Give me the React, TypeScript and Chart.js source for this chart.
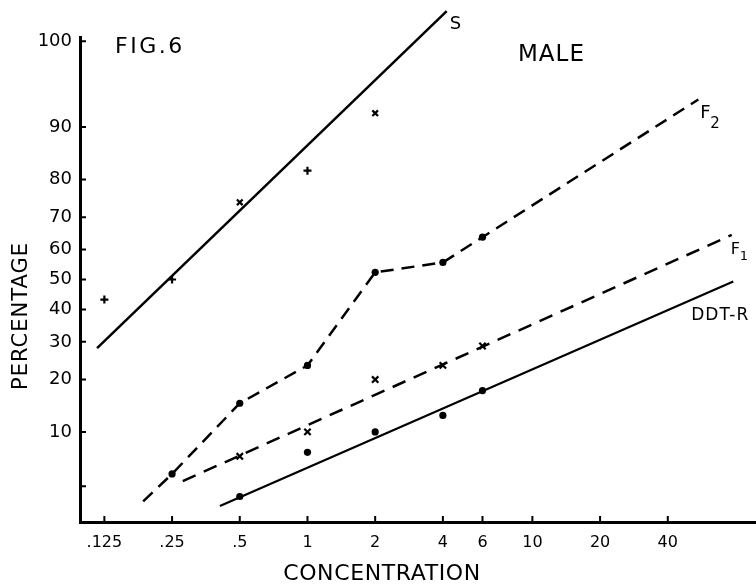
import React, { useEffect, useRef } from 'react';
import { Chart, registerables, Scale } from 'chart.js';

// ---------- data ----------
const X_TICK_VALUES = [0.125, 0.25, 0.5, 1, 2, 4, 6, 10, 20, 40];
const X_TICK_LABELS = ['.125', '.25', '.5', '1', '2', '4', '6', '10', '20', '40'];
const Y_TICK_VALUES = [4.1, 10, 20, 30, 40, 50, 60, 70, 80, 90, 97.75];
const Y_TICK_LABELS = ['', '10', '20', '30', '40', '50', '60', '70', '80', '90', '100'];

// S (susceptible) observed points and fitted line
const S_X = [0.125, 0.25, 0.5, 1, 2, 4];
const S_Y = [43.3, 50, 74.2, 82.0, 91.9, 98.7];
const S_FIT_X = [0.116, 4.16];
const S_FIT_Y = [28.2, 98.8];

// F2 observed points and the dashed curve through them
const F2_X = [0.25, 0.5, 1, 2, 4, 6];
const F2_Y = [5.1, 14.9, 23.5, 52.4, 55.7, 63.9];
const F2_CURVE_X = [0.186, 0.25, 0.5, 1, 2, 4, 6, 54.7];
const F2_CURVE_Y = [3.1, 5.1, 14.9, 23.5, 52.4, 55.7, 63.9, 93.5];

// F1 observed points and fitted dashed line
const F1_X = [0.5, 1, 2, 4, 6];
const F1_Y = [6.85, 10, 20, 23.5, 28.8];
const F1_FIT_X = [0.279, 77];
const F1_FIT_Y = [4.5, 64.6];

// DDT-R observed points and fitted line
const DDT_X = [0.5, 1, 2, 4, 6];
const DDT_Y = [3.4, 7.3, 10, 12.65, 17.5];
const DDT_FIT_X = [0.408, 78.2];
const DDT_FIT_Y = [2.84, 49.3];

const Y_MIN = 2.07;
const Y_MAX = 97.93;
const X_MIN = 0.0974;
const X_MAX = 98.7;

// ---------- probit scale ----------
function normInv(p: number): number {
  const a = [-3.969683028665376e1, 2.209460984245205e2, -2.759285104469687e2, 1.38357751867269e2, -3.066479806614716e1, 2.506628277459239];
  const b = [-5.447609879822406e1, 1.615858368580409e2, -1.556989798598866e2, 6.680131188771972e1, -1.328068155288572e1];
  const c = [-7.784894002430293e-3, -3.223964580411365e-1, -2.400758277161838, -2.549732539343734, 4.374664141464968, 2.938163982698783];
  const d = [7.784695709041462e-3, 3.224671290700398e-1, 2.445134137142996, 3.754408661907416];
  const pl = 0.02425;
  const ph = 1 - pl;
  let q: number, r: number;
  if (p < pl) {
    q = Math.sqrt(-2 * Math.log(p));
    return (((((c[0] * q + c[1]) * q + c[2]) * q + c[3]) * q + c[4]) * q + c[5]) / ((((d[0] * q + d[1]) * q + d[2]) * q + d[3]) * q + 1);
  }
  if (p <= ph) {
    q = p - 0.5;
    r = q * q;
    return ((((((a[0] * r + a[1]) * r + a[2]) * r + a[3]) * r + a[4]) * r + a[5]) * q) / (((((b[0] * r + b[1]) * r + b[2]) * r + b[3]) * r + b[4]) * r + 1);
  }
  q = Math.sqrt(-2 * Math.log(1 - p));
  return -(((((c[0] * q + c[1]) * q + c[2]) * q + c[3]) * q + c[4]) * q + c[5]) / ((((d[0] * q + d[1]) * q + d[2]) * q + d[3]) * q + 1);
}

function normCdf(z: number): number {
  const t = 1 / (1 + 0.2316419 * Math.abs(z));
  const dd = 0.3989423 * Math.exp((-z * z) / 2);
  const p = dd * t * (0.3193815 + t * (-0.3565638 + t * (1.781478 + t * (-1.821256 + t * 1.330274))));
  return z > 0 ? 1 - p : p;
}

const clampP = (v: number) => Math.min(Math.max(v / 100, 1e-6), 1 - 1e-6);

class ProbitScale extends (Scale as any) {
  static id = 'probit';
  static defaults = {};
  determineDataLimits() {
    this.min = this.options.min;
    this.max = this.options.max;
  }
  buildTicks() {
    return Y_TICK_VALUES.map((value) => ({ value }));
  }
  getLabelForValue(value: number) {
    return String(value);
  }
  getPixelForValue(value: number) {
    const z0 = normInv(clampP(this.min));
    const z1 = normInv(clampP(this.max));
    const z = normInv(clampP(value));
    return this.getPixelForDecimal((z - z0) / (z1 - z0));
  }
  getValueForPixel(pixel: number) {
    const z0 = normInv(clampP(this.min));
    const z1 = normInv(clampP(this.max));
    const dec = this.getDecimalForPixel(pixel);
    return 100 * normCdf(z0 + dec * (z1 - z0));
  }
}

Chart.register(...registerables);
Chart.register(ProbitScale as any);

const FONT = "'DejaVu Sans', 'Liberation Sans', sans-serif";

const pts = (xs: number[], ys: number[]) => xs.map((x, i) => ({ x, y: ys[i] }));

const noPad = (scale: any) => {
  scale.paddingLeft = 0;
  scale.paddingRight = 0;
  scale.paddingTop = 0;
  scale.paddingBottom = 0;
};

const annotPlugin = {
  id: 'annot',
  afterDraw(chart: any) {
    const { ctx, chartArea: a } = chart;
    const x = chart.scales.x;
    const y = chart.scales.y;
    ctx.save();
    ctx.fillStyle = '#000';
    ctx.strokeStyle = '#000';
    ctx.lineWidth = 2;
    ctx.beginPath();
    Y_TICK_VALUES.forEach((v) => {
      const py = y.getPixelForValue(v);
      ctx.moveTo(a.left, py);
      ctx.lineTo(a.left + 6, py);
    });
    X_TICK_VALUES.forEach((v) => {
      const px = x.getPixelForValue(v);
      ctx.moveTo(px, a.bottom);
      ctx.lineTo(px, a.bottom - 6);
    });
    ctx.stroke();

    const txt = (s: string, px: number, py: number, size: number, align = 'left', spacing = 0) => {
      ctx.font = `${size}px ${FONT}`;
      ctx.textAlign = align;
      ctx.textBaseline = 'alphabetic';
      ctx.letterSpacing = `${spacing}px`;
      ctx.fillText(s, px, py);
    };

    txt('FIG.6', 115, 53, 22, 'left', 2.5);
    txt('MALE', 518, 61, 23, 'left', 1);
    txt('CONCENTRATION', 382, 580, 22, 'center', 0.6);

    ctx.save();
    ctx.translate(27, 316);
    ctx.rotate(-Math.PI / 2);
    txt('PERCENTAGE', 0, 0, 21, 'center', 1);
    ctx.restore();

    const sx = x.getPixelForValue(S_FIT_X[1]);
    const sy = y.getPixelForValue(S_FIT_Y[1]);
    txt('S', sx + 3, sy + 18, 18);

    const f2x = x.getPixelForValue(F2_CURVE_X[F2_CURVE_X.length - 1]);
    const f2y = y.getPixelForValue(F2_CURVE_Y[F2_CURVE_Y.length - 1]);
    txt('F', f2x + 2, f2y + 19, 18);
    txt('2', f2x + 12, f2y + 29, 15);

    const f1x = x.getPixelForValue(F1_FIT_X[1]);
    const f1y = y.getPixelForValue(F1_FIT_Y[1]);
    txt('F', f1x - 1, f1y + 19, 16);
    txt('1', f1x + 8, f1y + 25, 13);

    const dx = x.getPixelForValue(DDT_FIT_X[1]);
    const dy = y.getPixelForValue(DDT_FIT_Y[1]);
    txt('DDT-R', dx - 42, dy + 38, 17, 'left', 1);
    ctx.restore();
  },
};

export default function App() {
  const ref = useRef<HTMLCanvasElement>(null);
  useEffect(() => {
    const lineBase = { showLine: true, pointRadius: 0, borderColor: '#000', clip: false as any, fill: false, tension: 0 };
    const chart = new Chart(ref.current as HTMLCanvasElement, {
      type: 'scatter',
      data: {
        datasets: [
          { ...lineBase, label: 'S fit', data: pts(S_FIT_X, S_FIT_Y), borderWidth: 2.5 },
          {
            label: 'S', data: pts(S_X, S_Y), showLine: false, clip: false as any,
            pointStyle: ['cross', 'cross', 'crossRot', 'cross', 'crossRot', 'cross'] as any,
            pointRadius: 4, borderWidth: 2.2, borderColor: '#000', backgroundColor: '#000',
          },
          { ...lineBase, label: 'F2 curve', data: pts(F2_CURVE_X, F2_CURVE_Y), borderWidth: 2.5, borderDash: [13, 8] },
          {
            label: 'F2', data: pts(F2_X, F2_Y), showLine: false, clip: false as any,
            pointStyle: 'circle', pointRadius: 3.6, borderWidth: 0, backgroundColor: '#000', borderColor: '#000',
          },
          { ...lineBase, label: 'F1 fit', data: pts(F1_FIT_X, F1_FIT_Y), borderWidth: 2.5, borderDash: [14, 9] },
          {
            label: 'F1', data: pts(F1_X, F1_Y), showLine: false, clip: false as any,
            pointStyle: 'crossRot', pointRadius: 4.5, borderWidth: 2.2, borderColor: '#000', backgroundColor: '#000',
          },
          { ...lineBase, label: 'DDT-R fit', data: pts(DDT_FIT_X, DDT_FIT_Y), borderWidth: 2.2 },
          {
            label: 'DDT-R', data: pts(DDT_X, DDT_Y), showLine: false, clip: false as any,
            pointStyle: 'circle', pointRadius: 3.6, borderWidth: 0, backgroundColor: '#000', borderColor: '#000',
          },
        ],
      },
      options: {
        animation: false,
        responsive: true,
        maintainAspectRatio: false,
        events: [],
        layout: { autoPadding: false, padding: { top: 37, left: 0, right: 0, bottom: 0 } },
        plugins: { legend: { display: false }, tooltip: { enabled: false } },
        scales: {
          x: {
            type: 'logarithmic',
            min: X_MIN,
            max: X_MAX,
            bounds: 'data',
            afterBuildTicks: (scale: any) => {
              scale.ticks = X_TICK_VALUES.map((value) => ({ value }));
            },
            afterFit: (scale: any) => {
              scale.height = 66;
              noPad(scale);
            },
            grid: { display: false, drawTicks: false, tickLength: 0 },
            border: { display: true, width: 3, color: '#000' },
            ticks: {
              autoSkip: false,
              maxRotation: 0,
              minRotation: 0,
              padding: 11,
              color: '#000',
              font: { family: FONT, size: 16 },
              callback: (_v: any, i: number) => X_TICK_LABELS[i],
            },
          },
          y: {
            type: 'probit' as any,
            min: Y_MIN,
            max: Y_MAX,
            afterFit: (scale: any) => {
              scale.width = 80;
              noPad(scale);
            },
            grid: { display: false, drawTicks: false, tickLength: 0 },
            border: { display: true, width: 3, color: '#000' },
            ticks: {
              autoSkip: false,
              padding: 8,
              color: '#000',
              font: { family: FONT, size: 18 },
              callback: (_v: any, i: number) => Y_TICK_LABELS[i],
            },
          } as any,
        },
      },
      plugins: [annotPlugin as any],
    });
    return () => chart.destroy();
  }, []);
  return (
    <div style={{ position: 'fixed', left: 0, top: 0, width: 756, height: 588, background: '#fff' }}>
      <canvas ref={ref} />
    </div>
  );
}
